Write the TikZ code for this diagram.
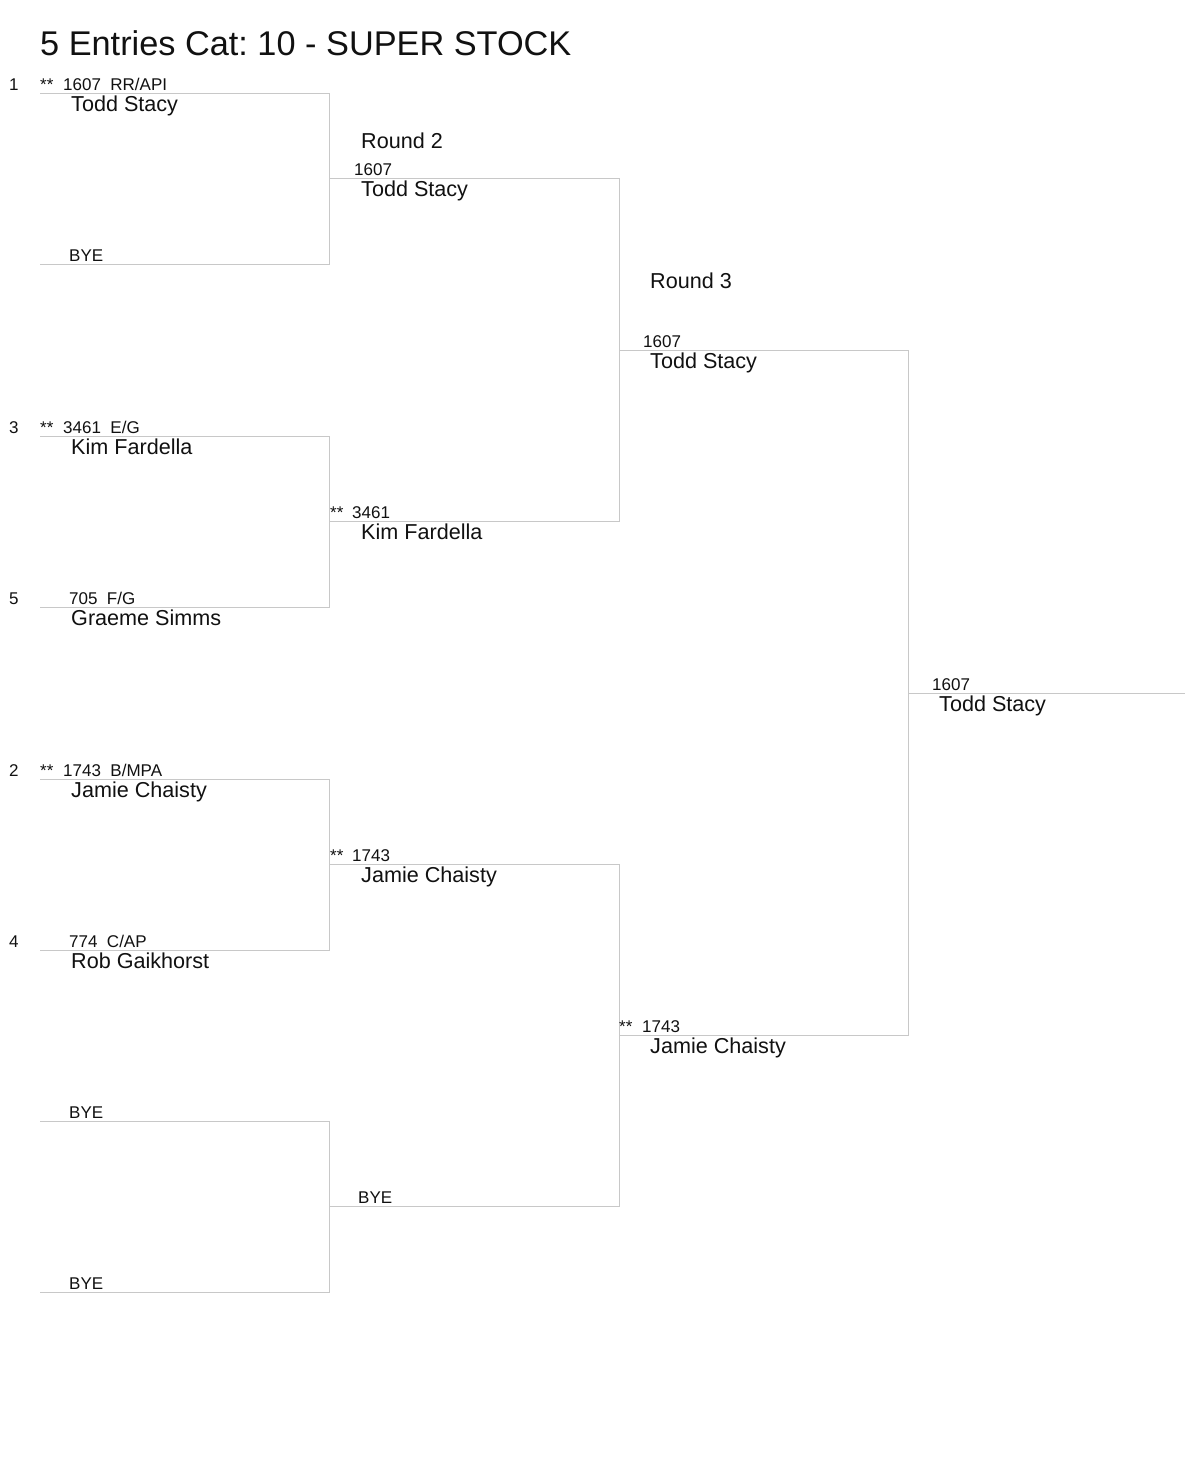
\documentclass[tikz,border=0pt]{standalone}
\usepackage{fontspec}
\setmainfont{Liberation Sans}
\frenchspacing
\definecolor{lineGray}{HTML}{C8C8C8}
\definecolor{txt}{HTML}{111111}
\begin{document}
\begin{tikzpicture}[x=1pt,y=-1pt,
  ln/.style={draw=lineGray,line width=1pt},
  lbl/.style={anchor=base west,inner sep=0pt,text=txt,font=\fontsize{17}{19}\selectfont},
  nm/.style={anchor=base west,inner sep=0pt,text=txt,font=\fontsize{21.6}{24}\selectfont},
  ttl/.style={anchor=base west,inner sep=0pt,text=txt,font=\fontsize{34.3}{38}\selectfont}]
\useasboundingbox[fill=white] (0,0) rectangle (1185,1460);

% title
\node[ttl] (title) at (40,55) {5 Entries Cat: 10 - SUPER STOCK};

% slot coordinates round 1
\foreach \n/\y in {1/93,2/264,3/436,4/607,5/779,6/950,7/1121,8/1292}{
  \coordinate (s\n L) at (40,\y);
  \coordinate (s\n R) at (329,\y);
}
% round 2
\foreach \n/\y in {1/178,2/521,3/864,4/1206}{
  \coordinate (t\n L) at (329,\y);
  \coordinate (t\n R) at (619,\y);
}
% round 3
\foreach \n/\y in {1/350,2/1035}{
  \coordinate (u\n L) at (619,\y);
  \coordinate (u\n R) at (908,\y);
}
\coordinate (fL) at (908,693);
\coordinate (fR) at (1185,693);

% bracket lines
\draw[ln] (s1L) -- (s1R) -- (s2R) -- (s2L);
\draw[ln] (s3L) -- (s3R) -- (s4R) -- (s4L);
\draw[ln] (s5L) -- (s5R) -- (s6R) -- (s6L);
\draw[ln] (s7L) -- (s7R) -- (s8R) -- (s8L);
\draw[ln] (t1L) -- (t1R) -- (t2R) -- (t2L);
\draw[ln] (t3L) -- (t3R) -- (t4R) -- (t4L);
\draw[ln] (u1L) -- (u1R) -- (u2R) -- (u2L);
\draw[ln] (fL) -- (fR);

% round 1 texts
\node[lbl] (seed1) at (9,90) {1};
\node[lbl] (st1) at (40,90) {**};
\node[lbl] (n1) at (63,90) {1607\ \ RR/API};
\node[nm] (p1) at (71,111) {Todd Stacy};
\node[lbl] (bye1) at (69,261) {BYE};

\node[lbl] (seed3) at (9,433) {3};
\node[lbl] (st3) at (40,433) {**};
\node[lbl] (n3) at (63,433) {3461\ \ E/G};
\node[nm] (p3) at (71,454) {Kim Fardella};

\node[lbl] (seed5) at (9,604) {5};
\node[lbl] (n5) at (69,604) {705\ \ F/G};
\node[nm] (p5) at (71,625) {Graeme Simms};

\node[lbl] (seed2) at (9,776) {2};
\node[lbl] (st2) at (40,776) {**};
\node[lbl] (n2) at (63,776) {1743\ \ B/MPA};
\node[nm] (p2) at (71,797) {Jamie Chaisty};

\node[lbl] (seed4) at (9,947) {4};
\node[lbl] (n4) at (69,947) {774\ \ C/AP};
\node[nm] (p4) at (71,968) {Rob Gaikhorst};

\node[lbl] (bye7) at (69,1118) {BYE};
\node[lbl] (bye8) at (69,1289) {BYE};

% round 2 texts
\node[nm] (r2) at (361,148) {Round 2};
\node[lbl] (tn1) at (354,175) {1607};
\node[nm] (tp1) at (361,196) {Todd Stacy};
\node[lbl] (tst2) at (330,518) {**};
\node[lbl] (tn2) at (352,518) {3461};
\node[nm] (tp2) at (361,539) {Kim Fardella};
\node[lbl] (tst3) at (330,861) {**};
\node[lbl] (tn3) at (352,861) {1743};
\node[nm] (tp3) at (361,882) {Jamie Chaisty};
\node[lbl] (tbye4) at (358,1203) {BYE};

% round 3 texts
\node[nm] (r3) at (650,288) {Round 3};
\node[lbl] (un1) at (643,347) {1607};
\node[nm] (up1) at (650,368) {Todd Stacy};
\node[lbl] (ust2) at (619,1032) {**};
\node[lbl] (un2) at (642,1032) {1743};
\node[nm] (up2) at (650,1053) {Jamie Chaisty};

% final
\node[lbl] (fn) at (932,690) {1607};
\node[nm] (fp) at (939,711) {Todd Stacy};
\end{tikzpicture}
\end{document}
